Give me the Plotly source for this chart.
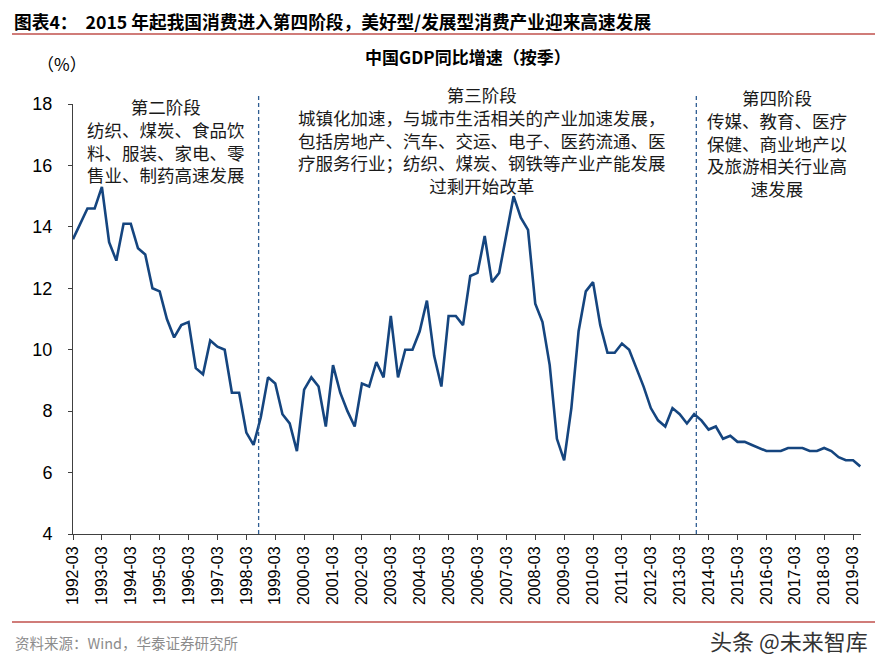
import plotly.graph_objects as go

years = list(range(1992, 2020))
months = ["03", "06", "09", "12"]
quarters = [f"{y}-{m}" for y in years for m in months][:110]

gdp_yoy = [
    13.6, 14.1, 14.6, 14.6,
    15.3, 13.5, 12.9, 14.1,
    14.1, 13.3, 13.1, 12.0,
    11.9, 11.0, 10.4, 10.8,
    10.9, 9.4, 9.2, 10.3,
    10.1, 10.0, 8.6, 8.6,
    7.3, 6.9, 7.8, 9.1,
    8.9, 7.9, 7.6, 6.7,
    8.7, 9.1, 8.8, 7.5,
    9.5, 8.6, 8.0, 7.5,
    8.9, 8.8, 9.6, 9.1,
    11.1, 9.1, 10.0, 10.0,
    10.6, 11.6, 9.8, 8.8,
    11.1, 11.1, 10.8, 12.4,
    12.5, 13.7, 12.2, 12.5,
    13.8, 15.0, 14.3, 13.9,
    11.5, 10.9, 9.5, 7.1,
    6.4, 8.1, 10.6, 11.9,
    12.2, 10.8, 9.9, 9.9,
    10.2, 10.0, 9.4, 8.8,
    8.1, 7.7, 7.5, 8.1,
    7.9, 7.6, 7.9, 7.7,
    7.4, 7.5, 7.1, 7.2,
    7.0, 7.0, 6.9, 6.8,
    6.7, 6.7, 6.7, 6.8,
    6.8, 6.8, 6.7, 6.7,
    6.8, 6.7, 6.5, 6.4,
    6.4, 6.2,
]

tick_labels = quarters[::4]
y_ticks = [4, 6, 8, 10, 12, 14, 16, 18]

# stage boundaries (category index positions)
stage_bounds = [25.7, 86.3, 110.2]

stage2_lines = ["第二阶段", "纺织、煤炭、食品饮", "料、服装、家电、零", "售业、制药高速发展"]
stage3_lines = ["第三阶段", "城镇化加速，与城市生活相关的产业加速发展，",
                "包括房地产、汽车、交运、电子、医药流通、医",
                "疗服务行业；纺织、煤炭、钢铁等产业产能发展", "过剩开始改革"]
stage4_lines = ["第四阶段", "传媒、教育、医疗", "保健、商业地产以", "及旅游相关行业高", "速发展"]

x_idx = list(range(len(gdp_yoy)))

W, H = 884, 671
L, R, T, B = 73, 884 - 861, 104, 671 - 534

fig = go.Figure()
fig.add_trace(go.Scatter(
    x=x_idx, y=gdp_yoy, mode="lines",
    line=dict(color="#15457F", width=2.6),
    hoverinfo="skip", showlegend=False,
))

line_color = "#2F5D92"
for i, xb in enumerate(stage_bounds):
    y0 = -0.205 if i == 2 else 0
    fig.add_shape(type="line", xref="x", yref="paper", x0=xb, x1=xb,
                  y0=y0, y1=1.02,
                  line=dict(color=line_color, width=1.3, dash="4px,3px"))

def px_to_paper_y(py):
    return (H - B - py) / (H - T - B)

def px_to_paper_x(px):
    return (px - L) / (W - L - R)

ann_font = dict(family="Noto Sans CJK SC", size=17.5, color="#1a1a1a")

def add_block(lines, cx, cy):
    fig.add_annotation(text="<br>".join(lines), xref="paper", yref="paper",
                       x=px_to_paper_x(cx), y=px_to_paper_y(cy),
                       xanchor="center", yanchor="middle", align="center",
                       showarrow=False, font=ann_font)

add_block(stage2_lines, 166, 140)
add_block(stage3_lines, 482, 140)
add_block(stage4_lines, 777, 143)

# titles
fig.add_annotation(text="<b>图表4：  2015 年起我国消费进入第四阶段，美好型/发展型消费产业迎来高速发展</b>",
                   xref="paper", yref="paper", x=px_to_paper_x(12), y=px_to_paper_y(21),
                   xanchor="left", yanchor="middle", showarrow=False,
                   font=dict(family="Noto Sans CJK SC", size=17.7, color="#000000"))
fig.add_annotation(text="<b>中国GDP同比增速（按季）</b>",
                   xref="paper", yref="paper", x=px_to_paper_x(468), y=px_to_paper_y(57),
                   xanchor="center", yanchor="middle", showarrow=False,
                   font=dict(family="Noto Sans CJK SC", size=17, color="#000000"))
fig.add_annotation(text="（%）",
                   xref="paper", yref="paper", x=px_to_paper_x(62), y=px_to_paper_y(63),
                   xanchor="center", yanchor="middle", showarrow=False,
                   font=dict(family="Noto Sans CJK SC", size=17, color="#000000"))
fig.add_annotation(text="资料来源：Wind，华泰证券研究所",
                   xref="paper", yref="paper", x=px_to_paper_x(13), y=px_to_paper_y(642),
                   xanchor="left", yanchor="middle", showarrow=False,
                   font=dict(family="Noto Sans CJK SC", size=14.5, color="#8c8c8c"))
fig.add_annotation(text="头条 @未来智库",
                   xref="paper", yref="paper", x=px_to_paper_x(870), y=px_to_paper_y(640),
                   xanchor="right", yanchor="middle", showarrow=False,
                   font=dict(family="Noto Sans CJK SC", size=22, color="#333333"))

# red separator lines
for yy in [34, 622]:
    fig.add_shape(type="line", xref="paper", yref="paper",
                  x0=px_to_paper_x(12), x1=px_to_paper_x(875),
                  y0=px_to_paper_y(yy), y1=px_to_paper_y(yy),
                  line=dict(color="#C0504D", width=1.5))

fig.update_layout(
    width=W, height=H,
    margin=dict(l=L, r=R, t=T, b=B),
    paper_bgcolor="white", plot_bgcolor="white",
    font=dict(family="Liberation Sans, Arial", color="#000000"),
    xaxis=dict(
        range=[0, 109.1], tickmode="array",
        tickvals=x_idx[::4], ticktext=tick_labels, tickangle=-90,
        tickfont=dict(family="Liberation Sans, Arial", size=16, color="#000000"),
        showgrid=False, zeroline=False, showline=True, linecolor="#404040", linewidth=1,
        ticks="outside", ticklen=5, tickcolor="#404040",
    ),
    yaxis=dict(
        range=[4, 18], tickmode="array", tickvals=y_ticks,
        tickfont=dict(family="Liberation Sans, Arial", size=18, color="#000000"),
        showgrid=False, zeroline=False, showline=True, linecolor="#404040", linewidth=1,
        ticks="outside", ticklen=4, tickcolor="#404040",
        ticklabelstandoff=12,
    ),
)

fig.write_html("out.html")
